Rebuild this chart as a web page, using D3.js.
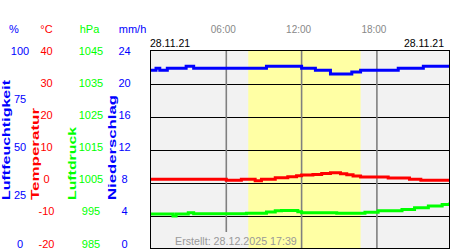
<!DOCTYPE html>
<html>
<head>
<meta charset="utf-8">
<script src="https://cdn.jsdelivr.net/npm/d3@7"></script>
<style>
  body { margin: 0; background: #fff; }
  svg { display: block; font-family: "Liberation Sans", Arial, sans-serif; }
</style>
</head>
<body>
<script>
// hours of the day for each reading, and the reading
const humTime = [0, 0.4, 0.7, 1.3, 2.8, 3.4, 9.2, 12.0, 13.1, 14.3, 16.0, 16.7, 19.7, 21.7, 23.8]
const humVal  = [90.3, 91.3, 90.3, 91.3, 92.3, 91.3, 92.3, 91.3, 90.3, 88.4, 89.4, 90.3, 91.3, 92.3, 92.3]

const tempTime = [0, 6.0, 7.2, 8.3, 8.8, 9.9, 10.9, 11.6, 12.0, 12.9, 13.6, 14.3, 15.1, 15.6, 16.1, 16.7, 18.9, 20.6, 21.5, 23.8]
const tempVal  = [1.15, 0.8, 1.1, 0.7, 1.1, 1.6, 1.9, 2.2, 2.4, 2.6, 2.9, 3.1, 2.8, 2.5, 2.1, 1.8, 1.5, 1.1, 0.8, 0.8]

const presTime = [0, 1.75, 2.0, 2.97, 3.4, 7.6, 9.2, 9.9, 10.4, 11.7, 12.0, 14.8, 17.05, 18.1, 20.0, 21.0, 22.1, 23.2, 23.8]
const presVal  = [995.6, 995.0, 995.6, 996.0, 995.7, 995.8, 996.2, 996.6, 996.7, 996.3, 996.0, 995.8, 996.1, 996.6, 997.0, 997.5, 998.0, 998.5, 999.1]

const humTicks  = [0, 25, 50, 75, 100]
const tempTicks = [-20, -10, 0, 10, 20, 30, 40]
const presTicks = [985, 995, 1005, 1015, 1025, 1035, 1045]
const rainTicks = [0, 4, 8, 12, 16, 20, 24]
const hourTicks = [6, 12, 18]
const hourLabels = ["06:00", "12:00", "18:00"]
const daylight = [7.75, 16.7]
const dateLabel = "28.11.21"
const created = "Erstellt: 28.12.2025 17:39"

const W = 450, H = 250
const pLeft = 151, pRight = 449, pTop = 51, pBottom = 249

const x = d3.scaleLinear().domain([0, 24]).range([pLeft, pLeft + 24 * 12.55])
const yHum  = d3.scaleLinear().domain([0, 100]).range([pBottom, pTop])
const yTemp = d3.scaleLinear().domain([-20, 40]).range([pBottom, pTop])
const yPres = d3.scaleLinear().domain([985, 1045]).range([pBottom, pTop])
// tick text sits a bit inside the plot height
const labelRange = [247.5, 54.5]

const svg = d3.select("body").append("svg")
    .attr("width", W)
    .attr("height", H)

svg.append("defs").append("clipPath").attr("id", "plot")
    .append("rect")
        .attr("x", pLeft).attr("y", pTop)
        .attr("width", pRight - pLeft).attr("height", pBottom - pTop)

svg.append("rect")
    .attr("x", pLeft).attr("y", pTop)
    .attr("width", pRight - pLeft).attr("height", pBottom - pTop)
    .attr("fill", "#f2f2f2")

svg.append("rect")
    .attr("x", x(daylight[0])).attr("y", pTop)
    .attr("width", x(daylight[1]) - x(daylight[0])).attr("height", pBottom - pTop)
    .attr("fill", "#ffffa4")

svg.append("g")
    .selectAll("line")
    .data(tempTicks.slice(1, -1))
    .enter()
    .append("line")
        .attr("x1", pLeft).attr("x2", pRight)
        .attr("y1", (d) => Math.round(yTemp(d)) + 0.5)
        .attr("y2", (d) => Math.round(yTemp(d)) + 0.5)
        .attr("stroke", "#000")

svg.append("g")
    .selectAll("line")
    .data(hourTicks)
    .enter()
    .append("line")
        .attr("x1", (d) => x(d)).attr("x2", (d) => x(d))
        .attr("y1", pTop).attr("y2", pBottom)
        .attr("stroke", "#808080")
        .attr("stroke-width", 1.6)

// box behind the "Erstellt" note hides the grid line there
svg.append("rect")
    .attr("x", 172).attr("y", 232)
    .attr("width", x(daylight[0]) - 172).attr("height", pBottom - 232)
    .attr("fill", "#f2f2f2")

svg.append("text")
    .attr("x", 175).attr("y", 245)
    .attr("font-size", 10.7)
    .attr("fill", "#999")
    .text(created)

const series = [
    { t: humTime,  v: humVal,  y: yHum,  color: "#0000ff" },
    { t: tempTime, v: tempVal, y: yTemp, color: "#ff0000" },
    { t: presTime, v: presVal, y: yPres, color: "#00ff00" }
]

series.forEach((s) => {
    const pts = s.t.map((t, i) => [t, s.v[i]])
    svg.append("path")
        .datum(pts)
        .attr("clip-path", "url(#plot)")
        .attr("d", d3.line()
            .x((d) => x(d[0]))
            .y((d) => s.y(d[1]))
            .curve(d3.curveStepAfter))
        .attr("fill", "none")
        .attr("stroke", s.color)
        .attr("stroke-width", 3)
})

svg.append("rect")
    .attr("x", pLeft - 0.5).attr("y", pTop - 0.5)
    .attr("width", pRight - pLeft + 1).attr("height", pBottom - pTop)
    .attr("fill", "none")
    .attr("stroke", "#000")

// time labels and dates
svg.append("g")
    .selectAll("text")
    .data(hourTicks)
    .enter()
    .append("text")
        .attr("x", (d) => x(d) - 3)
        .attr("y", 32.5)
        .attr("text-anchor", "middle")
        .attr("font-size", 10)
        .attr("fill", "#888")
        .text((d, i) => hourLabels[i])

svg.append("text")
    .attr("x", 150).attr("y", 46.5)
    .attr("font-size", 10.5)
    .text(dateLabel)

svg.append("text")
    .attr("x", 444).attr("y", 46.5)
    .attr("text-anchor", "end")
    .attr("font-size", 10.5)
    .text(dateLabel)

// the four value axes on the left
const axes = [
    { ticks: humTicks,  unit: "%",    title: "Luftfeuchtigkeit", color: "#0000ff", cx: 20,    ux: 14,    tx: 6,     len: 120 },
    { ticks: tempTicks, unit: "°C",   title: "Temperatur",       color: "#ff0000", cx: 46.5,  ux: 46.5,  tx: 35.5,  len: 92 },
    { ticks: presTicks, unit: "hPa",  title: "Luftdruck",        color: "#00ff00", cx: 91,    ux: 89.5,  tx: 72,    len: 73 },
    { ticks: rainTicks, unit: "mm/h", title: "Niederschlag",     color: "#0000ff", cx: 124.5, ux: 132.5, tx: 112.5, len: 105 }
]

axes.forEach((a) => {
    const ly = d3.scaleLinear().domain(d3.extent(a.ticks)).range(labelRange)
    const g = svg.append("g").attr("fill", a.color).attr("font-size", 11)

    g.selectAll("text.tick")
        .data(a.ticks)
        .enter()
        .append("text")
            .attr("class", "tick")
            .attr("x", a.cx)
            .attr("y", (d) => ly(d))
            .attr("text-anchor", "middle")
            .text((d) => d)

    g.append("text")
        .attr("x", a.ux).attr("y", 33)
        .attr("text-anchor", "middle")
        .text(a.unit)

    g.append("text")
        .attr("transform", `translate(${a.tx + 3.5},200) rotate(-90)`)
        .attr("font-size", 10)
        .attr("font-weight", "bold")
        .attr("textLength", a.len)
        .attr("lengthAdjust", "spacingAndGlyphs")
        .text(a.title)
})
</script>
</body>
</html>
